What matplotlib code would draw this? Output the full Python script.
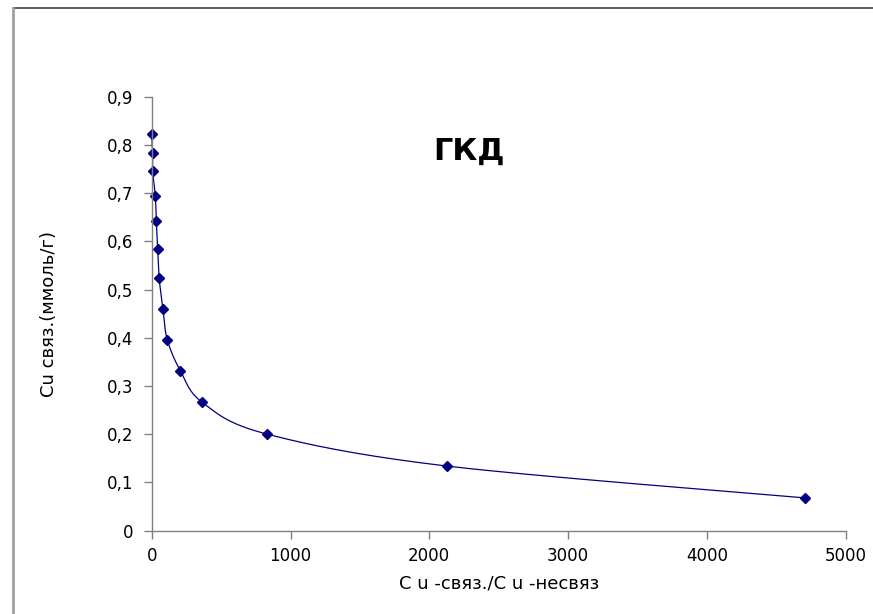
import numpy as np
import matplotlib.pyplot as plt
from matplotlib.lines import Line2D

plt.rcParams['font.family'] = ['DejaVu Sans']

# отношение связанной меди к несвязанной и связанная медь (ммоль/г)
ratio = [0, 7, 7, 26, 33, 43, 53, 81, 112, 206, 365, 828, 2128, 4707]
cu_bound = [0.822, 0.783, 0.745, 0.694, 0.642, 0.584, 0.525, 0.460,
            0.396, 0.332, 0.266, 0.2005, 0.134, 0.068]
x_ticks = [0, 1000, 2000, 3000, 4000, 5000]
y_ticks = [0, 0.1, 0.2, 0.3, 0.4, 0.5, 0.6, 0.7, 0.8, 0.9]
y_labels = ["0", "0,1", "0,2", "0,3", "0,4", "0,5", "0,6", "0,7", "0,8", "0,9"]

navy = "#000080"
grey = "#808080"


def smooth(ax, xs, ys, n=30):
    """сглаженная линия как в Excel (Безье по соседним точкам), в пикселях"""
    pts = ax.transData.transform(np.column_stack([xs, ys]))
    p = np.vstack([pts[0], pts, pts[-1]])
    out = []
    t = np.linspace(0, 1, n)[:, None]
    for i in range(1, len(p) - 2):
        p0, p3 = p[i], p[i + 1]
        c1 = p0 + (p[i + 1] - p[i - 1]) / 6
        c2 = p3 - (p[i + 2] - p[i]) / 6
        seg = ((1 - t) ** 3) * p0 + 3 * ((1 - t) ** 2) * t * c1 \
            + 3 * (1 - t) * t ** 2 * c2 + t ** 3 * p3
        out.append(seg)
    out = np.vstack(out)
    return ax.transData.inverted().transform(out)


fig = plt.figure(figsize=(8.73, 6.14), dpi=100)
ax = fig.add_axes([0.1738, 0.1357, 0.7949, 0.7068])
ax.set_xlim(0, 5000)
ax.set_ylim(0, 0.9)

curve = smooth(ax, ratio, cu_bound)
ax.plot(curve[:, 0], curve[:, 1], color=navy, lw=0.9, clip_on=False)
ax.plot(ratio, cu_bound, ls="none", marker="D", ms=4.6, color=navy,
        clip_on=False)

ax.set_xticks(x_ticks)
ax.set_yticks(y_ticks)
ax.set_yticklabels(y_labels)
for s in ["top", "right"]:
    ax.spines[s].set_visible(False)
for s in ["left", "bottom"]:
    ax.spines[s].set_color(grey)
    ax.spines[s].set_linewidth(1.0)
ax.tick_params(colors=grey, labelcolor="black", labelsize=12, length=6,
               width=1.0)
ax.tick_params(axis="y", pad=7)
ax.tick_params(axis="x", pad=6)

ax.set_xlabel("C u -связ./C u -несвяз", fontsize=13)
ax.set_ylabel("Cu связ.(ммоль/г)", fontsize=13)
ax.xaxis.set_label_coords(0.5, -0.1)
ax.yaxis.set_label_coords(-0.135, 0.5)
ax.text(0.457, 0.875, "ГКД", transform=ax.transAxes, ha="center",
        va="center", fontsize=22, fontweight="bold")

# рамка вокруг диаграммы
fig.add_artist(Line2D([13 / 873, 1], [1 - 8 / 614] * 2, color="#404040",
                      lw=1.2, transform=fig.transFigure))
fig.add_artist(Line2D([13 / 873] * 2, [0, 1 - 8 / 614], color="#a0a0a0",
                      lw=2, transform=fig.transFigure))

fig.savefig("out.png", dpi=100)
